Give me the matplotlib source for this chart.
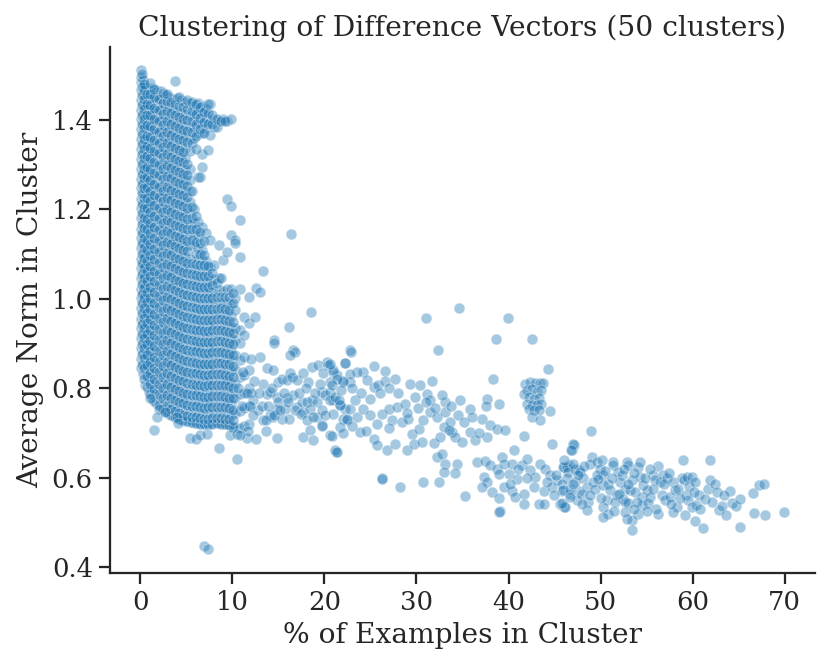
import numpy as np
import pandas as pd
import matplotlib
matplotlib.use("Agg")
import matplotlib.pyplot as plt
import seaborn as sns

# ---- dense block (x < 12): one x per column, y values
mass_x = [0.05, 0.25, 0.5, 0.9, 1.3, 1.75, 2.2, 2.65, 3.1, 3.55, 4.0, 4.45, 4.9, 5.35,
          5.8, 6.25, 6.7, 7.15, 7.6, 8.05, 8.5, 8.95, 9.4, 9.85, 10.3, 10.8, 11.3, 11.8]
mass_y = [
    [0.845, 0.866, 0.889, 0.912, 0.934, 0.955, 0.979, 1.001, 1.022, 1.046, 1.068, 1.089, 1.113, 1.135, 1.156, 1.18,
     1.202, 1.223, 1.247, 1.268, 1.29, 1.313, 1.335, 1.357, 1.379, 1.401, 1.422, 1.445, 1.466, 1.484, 1.497, 1.511],
    [0.832, 0.855, 0.878, 0.9, 0.923, 0.946, 0.968, 0.99, 1.012, 1.035, 1.057, 1.08, 1.102, 1.124, 1.146, 1.169,
     1.191, 1.213, 1.236, 1.258, 1.28, 1.302, 1.325, 1.347, 1.369, 1.391, 1.413, 1.436, 1.457, 1.476, 1.49],
    [0.806, 0.829, 0.851, 0.873, 0.897, 0.918, 0.94, 0.963, 0.985, 1.007, 1.03, 1.052, 1.074, 1.097, 1.119, 1.141,
     1.164, 1.186, 1.208, 1.231, 1.253, 1.275, 1.298, 1.32, 1.342, 1.365, 1.387, 1.409, 1.432, 1.454, 1.473],
    [0.792, 0.817, 0.84, 0.864, 0.887, 0.91, 0.934, 0.957, 0.981, 1.004, 1.027, 1.051, 1.074, 1.097, 1.121, 1.144,
     1.167, 1.191, 1.214, 1.237, 1.261, 1.284, 1.307, 1.331, 1.354, 1.377, 1.401, 1.424, 1.447, 1.468],
    [0.777, 0.801, 0.825, 0.849, 0.873, 0.897, 0.921, 0.945, 0.969, 0.993, 1.017, 1.041, 1.065, 1.089, 1.113, 1.137,
     1.161, 1.185, 1.209, 1.233, 1.257, 1.281, 1.305, 1.329, 1.353, 1.377, 1.401, 1.425, 1.449, 1.472],
    [0.766, 0.79, 0.815, 0.839, 0.863, 0.888, 0.912, 0.936, 0.961, 0.985, 1.009, 1.034, 1.058, 1.082, 1.107, 1.131,
     1.155, 1.18, 1.204, 1.228, 1.253, 1.277, 1.301, 1.326, 1.35, 1.374, 1.399, 1.423, 1.447, 1.468],
    [0.757, 0.782, 0.806, 0.831, 0.856, 0.88, 0.905, 0.93, 0.954, 0.979, 1.004, 1.028, 1.053, 1.078, 1.102, 1.127,
     1.152, 1.176, 1.201, 1.226, 1.25, 1.275, 1.3, 1.324, 1.349, 1.374, 1.398, 1.423, 1.446, 1.464],
    [0.749, 0.772, 0.797, 0.821, 0.846, 0.87, 0.894, 0.919, 0.943, 0.968, 0.992, 1.016, 1.041, 1.065, 1.09, 1.114,
     1.138, 1.163, 1.187, 1.212, 1.236, 1.26, 1.285, 1.309, 1.334, 1.358, 1.382, 1.407, 1.431, 1.455],
    [0.743, 0.766, 0.791, 0.815, 0.84, 0.864, 0.889, 0.913, 0.938, 0.962, 0.987, 1.011, 1.036, 1.06, 1.085, 1.109,
     1.134, 1.158, 1.183, 1.207, 1.232, 1.256, 1.281, 1.305, 1.33, 1.354, 1.379, 1.403, 1.428, 1.452],
    [0.737, 0.761, 0.786, 0.81, 0.835, 0.859, 0.884, 0.908, 0.933, 0.957, 0.982, 1.006, 1.031, 1.055, 1.08, 1.104,
     1.129, 1.153, 1.178, 1.202, 1.227, 1.251, 1.276, 1.3, 1.325, 1.349, 1.374, 1.398, 1.423, 1.447],
    [0.733, 0.757, 0.781, 0.806, 0.83, 0.855, 0.879, 0.904, 0.928, 0.953, 0.977, 1.002, 1.026, 1.051, 1.075, 1.1,
     1.124, 1.149, 1.173, 1.198, 1.222, 1.247, 1.271, 1.296, 1.32, 1.345, 1.369, 1.394, 1.418, 1.448],
    [0.729, 0.753, 0.778, 0.802, 0.827, 0.851, 0.876, 0.9, 0.925, 0.949, 0.974, 0.998, 1.023, 1.047, 1.072, 1.096,
     1.121, 1.145, 1.17, 1.194, 1.219, 1.243, 1.268, 1.292, 1.317, 1.341, 1.366, 1.39, 1.415, 1.444],
    [0.727, 0.75, 0.775, 0.799, 0.824, 0.848, 0.873, 0.897, 0.922, 0.946, 0.971, 0.995, 1.02, 1.044, 1.069, 1.093,
     1.118, 1.142, 1.167, 1.191, 1.216, 1.24, 1.265, 1.289, 1.314, 1.338, 1.363, 1.387, 1.412, 1.441],
    [0.725, 0.749, 0.773, 0.798, 0.822, 0.847, 0.871, 0.896, 0.92, 0.945, 0.969, 0.994, 1.018, 1.043, 1.067, 1.089,
     1.12, 1.143, 1.168, 1.192, 1.217, 1.241, 1.266, 1.29, 1.33, 1.358, 1.384, 1.408, 1.437],
    [0.723, 0.747, 0.772, 0.796, 0.821, 0.845, 0.87, 0.894, 0.919, 0.943, 0.968, 0.992, 1.017, 1.041, 1.066, 1.12,
     1.145, 1.17, 1.2, 1.36, 1.385, 1.41, 1.432],
    [0.721, 0.745, 0.77, 0.794, 0.819, 0.843, 0.868, 0.892, 0.917, 0.941, 0.966, 0.99, 1.015, 1.039, 1.064, 1.088,
     1.113, 1.14, 1.172, 1.273, 1.37, 1.395, 1.42, 1.438],
    [0.72, 0.744, 0.769, 0.793, 0.818, 0.842, 0.867, 0.891, 0.916, 0.94, 0.965, 0.989, 1.014, 1.038, 1.063, 1.087,
     1.11, 1.16, 1.294, 1.324, 1.37, 1.392, 1.415, 1.432],
    [0.72, 0.744, 0.768, 0.793, 0.817, 0.842, 0.866, 0.891, 0.915, 0.94, 0.964, 0.989, 1.013, 1.038, 1.062, 1.085,
     1.146, 1.383, 1.405, 1.425],
    [0.72, 0.745, 0.769, 0.794, 0.818, 0.843, 0.867, 0.892, 0.916, 0.941, 0.965, 0.99, 1.014, 1.04, 1.07, 1.131,
     1.366, 1.396, 1.436],
    [0.721, 0.745, 0.77, 0.794, 0.819, 0.843, 0.868, 0.892, 0.917, 0.941, 0.966, 0.99, 1.015, 1.045, 1.075, 1.385, 1.401],
    [0.722, 0.746, 0.771, 0.795, 0.82, 0.844, 0.869, 0.893, 0.918, 0.942, 0.967, 0.991, 1.02, 1.046, 1.12, 1.398],
    [0.72, 0.745, 0.769, 0.794, 0.818, 0.843, 0.867, 0.892, 0.916, 0.941, 0.965, 0.99, 1.018, 1.087, 1.401],
    [0.72, 0.744, 0.769, 0.793, 0.818, 0.842, 0.867, 0.891, 0.916, 0.94, 0.965, 0.99, 1.021, 1.105, 1.224, 1.398],
    [0.716, 0.741, 0.765, 0.79, 0.814, 0.839, 0.863, 0.888, 0.912, 0.937, 0.961, 0.986, 1.021, 1.143, 1.208, 1.401],
    [0.712, 0.745, 0.778, 0.81, 0.843, 0.875, 0.908, 0.934, 0.975, 1.001, 1.131, 1.124],
    [0.71, 0.748, 0.786, 0.824, 0.862, 0.9, 0.93, 1.021, 1.094, 1.176],
    [0.715, 0.755, 0.79, 0.83, 0.87, 0.919, 0.96],
    [0.72, 0.76, 0.8, 0.84, 0.945, 1.005],
]

# second, staggered set of columns inside the block
mass2_x = [0.15, 0.38, 0.7, 1.1, 1.52, 1.98, 2.42, 2.88, 3.32, 3.78, 4.22, 4.68, 5.12, 5.58,
           6.02, 6.48, 6.92, 7.38, 7.82, 8.28, 8.72, 9.18, 9.62, 10.05]
mass2_y = [
    [0.851, 0.876, 0.899, 0.921, 0.944, 0.967, 0.99, 1.011, 1.034, 1.056, 1.079, 1.101, 1.124, 1.146, 1.168,
     1.191, 1.213, 1.236, 1.257, 1.28, 1.302, 1.324, 1.346, 1.368, 1.39, 1.412, 1.434, 1.455, 1.474, 1.503],
    [0.821, 0.845, 0.867, 0.889, 0.912, 0.934, 0.957, 0.979, 1.001, 1.024, 1.046, 1.068, 1.091, 1.113, 1.135,
     1.158, 1.18, 1.202, 1.225, 1.247, 1.269, 1.291, 1.314, 1.336, 1.358, 1.381, 1.403, 1.425, 1.446, 1.466, 1.481],
    [0.803, 0.828, 0.852, 0.875, 0.898, 0.922, 0.945, 0.969, 0.992, 1.015, 1.039, 1.062, 1.085, 1.109, 1.132,
     1.155, 1.179, 1.202, 1.225, 1.249, 1.272, 1.295, 1.319, 1.342, 1.365, 1.389, 1.412, 1.435, 1.458],
    [0.786, 0.81, 0.834, 0.858, 0.882, 0.906, 0.93, 0.954, 0.978, 1.002, 1.026, 1.05, 1.074, 1.098, 1.122,
     1.146, 1.17, 1.194, 1.218, 1.242, 1.266, 1.29, 1.314, 1.338, 1.362, 1.386, 1.41, 1.434, 1.458, 1.483],
    [0.772, 0.797, 0.821, 0.845, 0.869, 0.894, 0.918, 0.942, 0.966, 0.991, 1.015, 1.039, 1.063, 1.088, 1.112,
     1.136, 1.16, 1.185, 1.209, 1.233, 1.257, 1.282, 1.306, 1.33, 1.354, 1.379, 1.403, 1.427, 1.451, 1.47],
    [0.762, 0.786, 0.81, 0.835, 0.859, 0.884, 0.908, 0.933, 0.957, 0.982, 1.006, 1.031, 1.055, 1.08, 1.104,
     1.129, 1.153, 1.178, 1.202, 1.227, 1.251, 1.276, 1.3, 1.325, 1.349, 1.374, 1.398, 1.423, 1.446],
    [0.753, 0.777, 0.801, 0.826, 0.85, 0.875, 0.899, 0.924, 0.948, 0.973, 0.997, 1.022, 1.046, 1.071, 1.095,
     1.12, 1.144, 1.169, 1.193, 1.218, 1.242, 1.267, 1.291, 1.316, 1.34, 1.365, 1.389, 1.414, 1.438, 1.46],
    [0.746, 0.759, 0.784, 0.809, 0.833, 0.858, 0.882, 0.907, 0.931, 0.956, 0.98, 1.005, 1.029, 1.054, 1.078,
     1.103, 1.127, 1.152, 1.176, 1.201, 1.225, 1.25, 1.274, 1.299, 1.323, 1.348, 1.372, 1.397, 1.421, 1.443, 1.458],
    [0.74, 0.754, 0.779, 0.803, 0.828, 0.852, 0.877, 0.901, 0.926, 0.95, 0.975, 0.999, 1.024, 1.048, 1.073,
     1.097, 1.122, 1.146, 1.171, 1.195, 1.22, 1.244, 1.269, 1.293, 1.318, 1.342, 1.367, 1.391, 1.416, 1.44],
    [0.735, 0.749, 0.774, 0.798, 0.823, 0.847, 0.872, 0.896, 0.921, 0.945, 0.97, 0.994, 1.019, 1.043, 1.068,
     1.092, 1.117, 1.141, 1.166, 1.19, 1.215, 1.239, 1.264, 1.288, 1.313, 1.337, 1.362, 1.386, 1.411, 1.435, 1.487],
    [0.731, 0.745, 0.77, 0.794, 0.819, 0.843, 0.868, 0.892, 0.917, 0.941, 0.966, 0.99, 1.015, 1.039, 1.064,
     1.088, 1.113, 1.137, 1.162, 1.186, 1.211, 1.235, 1.26, 1.284, 1.309, 1.333, 1.358, 1.382, 1.407, 1.431, 1.452],
    [0.728, 0.741, 0.766, 0.79, 0.815, 0.839, 0.864, 0.888, 0.913, 0.937, 0.962, 0.986, 1.011, 1.035, 1.06,
     1.084, 1.109, 1.133, 1.158, 1.182, 1.207, 1.231, 1.256, 1.28, 1.305, 1.329, 1.354, 1.378, 1.403, 1.428],
    [0.726, 0.738, 0.763, 0.787, 0.812, 0.836, 0.861, 0.885, 0.91, 0.934, 0.959, 0.983, 1.008, 1.032, 1.057,
     1.081, 1.106, 1.13, 1.155, 1.179, 1.204, 1.228, 1.253, 1.277, 1.302, 1.35, 1.375, 1.399, 1.424, 1.445],
    [0.724, 0.736, 0.761, 0.785, 0.81, 0.834, 0.859, 0.883, 0.908, 0.932, 0.957, 0.981, 1.006, 1.03, 1.055,
     1.079, 1.132, 1.157, 1.181, 1.206, 1.24, 1.348, 1.372, 1.397, 1.421, 1.44],
    [0.722, 0.735, 0.759, 0.784, 0.808, 0.833, 0.857, 0.882, 0.906, 0.931, 0.955, 0.98, 1.004, 1.029, 1.053,
     1.078, 1.1, 1.127, 1.155, 1.185, 1.336, 1.365, 1.39, 1.414, 1.436],
    [0.72, 0.733, 0.757, 0.782, 0.806, 0.831, 0.855, 0.88, 0.904, 0.929, 0.953, 0.978, 1.002, 1.027, 1.051,
     1.076, 1.1, 1.125, 1.15, 1.273, 1.38, 1.405, 1.428],
    [0.72, 0.732, 0.756, 0.781, 0.805, 0.83, 0.854, 0.879, 0.903, 0.928, 0.952, 0.977, 1.001, 1.026, 1.05,
     1.075, 1.098, 1.13, 1.37, 1.395, 1.418],
    [0.72, 0.732, 0.757, 0.781, 0.806, 0.83, 0.855, 0.879, 0.904, 0.928, 0.953, 0.977, 1.002, 1.026, 1.05,
     1.073, 1.333, 1.39, 1.415, 1.436],
    [0.72, 0.733, 0.757, 0.782, 0.806, 0.831, 0.855, 0.88, 0.904, 0.929, 0.953, 0.978, 1.002, 1.03, 1.057,
     1.39, 1.41],
    [0.721, 0.733, 0.758, 0.782, 0.807, 0.831, 0.856, 0.88, 0.905, 0.929, 0.954, 0.978, 1.005, 1.035, 1.385, 1.401],
    [0.72, 0.734, 0.758, 0.783, 0.807, 0.832, 0.856, 0.881, 0.905, 0.93, 0.954, 0.979, 1.004, 1.046, 1.398],
    [0.72, 0.732, 0.757, 0.781, 0.806, 0.83, 0.855, 0.879, 0.904, 0.928, 0.953, 0.977, 1.005, 1.398],
    [0.718, 0.73, 0.755, 0.779, 0.804, 0.828, 0.853, 0.877, 0.902, 0.926, 0.951, 0.975, 1.003],
    [0.714, 0.728, 0.752, 0.777, 0.801, 0.826, 0.85, 0.875, 0.899, 0.924, 0.949, 0.99, 1.012],
]

# ---- arm between x = 12 and x = 23
arm_x = [13.01, 13.74, 14.46, 15.00, 15.37, 15.91, 16.27, 16.45, 16.99, 17.72, 18.26, 18.63, 19.35, 20.26,
         20.44, 19.89, 20.98, 21.34, 22.25, 22.07, 22.79, 20.62, 13.37, 13.74, 14.10, 14.82, 15.00, 15.91,
         16.63, 16.99, 17.54, 18.08, 18.63, 19.17, 19.71, 20.07, 20.62, 20.98, 21.71, 22.25, 16.81, 17.72,
         18.44, 19.17, 19.71, 20.07, 20.98, 22.07, 22.43, 15.73, 14.82, 14.10, 14.46, 13.37, 12.83, 12.29,
         13.7, 14.5, 15.4, 16.1, 17.4, 18.1, 18.8, 19.7, 21.7, 22.4, 12.5, 12.6, 13.0, 13.3, 14.5, 16.1,
         14.5, 16.6, 16.8, 16.3, 18.5, 16.4, 22.8, 12.0, 12.4, 11.9,
         10.6, 11.0, 11.2, 11.6, 12.2, 12.0, 12.9, 13.2, 13.9, 14.3, 15.2, 15.6, 16.0, 17.2, 18.0, 19.0, 19.5]
arm_y = [0.870, 0.844, 0.840, 0.814, 0.821, 0.818, 0.833, 0.825, 0.818, 0.833, 0.814, 0.848, 0.851, 0.859,
         0.851, 0.833, 0.836, 0.829, 0.856, 0.814, 0.814, 0.814, 0.810, 0.788, 0.792, 0.780, 0.769, 0.777,
         0.784, 0.758, 0.769, 0.769, 0.773, 0.769, 0.792, 0.784, 0.792, 0.773, 0.762, 0.754, 0.751, 0.747,
         0.754, 0.736, 0.751, 0.739, 0.743, 0.732, 0.728, 0.754, 0.754, 0.739, 0.736, 0.728, 0.751, 0.773,
         0.728, 0.740, 0.732, 0.732, 0.743, 0.728, 0.736, 0.717, 0.713, 0.732, 0.960, 1.023, 1.014, 1.062,
         0.908, 0.937, 0.901, 0.886, 0.881, 0.874, 0.971, 1.144, 0.885, 0.790, 0.815, 0.760,
         0.800, 0.760, 0.835, 0.790, 0.740, 0.865, 0.790, 0.760, 0.760, 0.800, 0.750, 0.790, 0.770, 0.790,
         0.800, 0.790, 0.810]

# ---- stragglers under the block
low_x = [1.5, 5.4, 6.1, 6.5, 7.2, 8.5, 10.5, 9.75, 10.5, 11.6, 12.6, 14.8, 17.7, 18.4, 19.7, 20.6, 21.3,
         18.8, 6.9, 7.4, 1.05, 2.0, 1.85, 2.7, 4.0, 4.1, 13.7, 11.7, 10.8, 21.2, 26.3]
low_y = [0.707, 0.689, 0.687, 0.695, 0.698, 0.666, 0.642, 0.695, 0.698, 0.689, 0.687, 0.689, 0.691, 0.706,
         0.715, 0.695, 0.657, 0.685, 0.446, 0.440, 0.777, 0.754, 0.736, 0.747, 0.736, 0.721, 0.704, 0.704,
         0.695, 0.661, 0.598]

# ---- middle of the tail, x = 20 .. 48
tail_x = [34.64, 31.02, 39.90, 38.63, 42.50, 32.29, 44.24, 38.27, 22.87, 22.25,
          41.82, 42.36, 42.90, 43.45, 43.74, 42.00, 42.54, 43.08, 43.52, 41.63, 42.18, 42.72, 43.27,
          42.00, 42.54, 43.08, 43.52, 42.18, 42.72, 43.27, 42.54, 43.45, 44.53,
          25.33, 26.60, 24.24, 23.52, 22.79, 22.07, 20.98, 20.62, 21.34, 20.80, 24.61, 25.33, 25.87, 26.60,
          27.69, 29.32, 30.40, 31.67, 31.13, 31.49, 33.12, 34.75, 35.84, 37.65, 38.92, 37.58,
          20.62, 21.16, 21.71, 21.53, 22.79, 23.34, 23.52, 24.24, 24.97, 25.69, 26.24, 26.96, 27.32, 27.87,
          28.41, 29.13, 29.50, 30.22, 30.76, 31.49, 32.21, 32.94, 33.84, 33.12, 33.66, 34.21, 34.93, 35.84,
          36.38, 37.11, 38.01, 38.74, 39.64, 37.65, 41.63, 44.71, 20.80, 21.34, 23.88, 25.33, 25.69, 26.78,
          27.69, 28.95, 29.68, 30.58, 31.85, 32.58, 33.48, 32.21, 32.76, 33.12, 32.94, 34.39, 34.21, 32.40,
          30.76, 28.23, 26.24, 35.29,
          36.56, 37.47, 38.01, 38.74, 39.28, 39.46, 40.00, 40.55, 40.37, 40.91, 41.45, 42.00, 42.36, 42.90,
          43.45, 43.99, 44.53, 45.26, 45.98, 46.53, 46.89, 47.07, 47.61, 37.29, 37.65, 37.11, 38.19, 38.92,
          39.46, 40.37, 40.73, 41.63, 42.72, 43.27, 43.81, 44.71, 45.80, 46.71, 45.98, 47.61, 39.10, 41.63,
          43.81, 45.62, 39.0,
          21.8, 23.0, 24.0, 25.0, 26.0, 27.0, 28.0, 28.8, 29.8, 30.2, 31.0, 32.0, 32.8, 33.8, 34.5, 35.2,
          36.0, 36.8, 29.0, 27.0, 24.5, 23.0, 22.0]
tail_y = [0.980, 0.956, 0.957, 0.909, 0.909, 0.886, 0.842, 0.821, 0.881, 0.856,
          0.810, 0.814, 0.812, 0.812, 0.812, 0.795, 0.799, 0.791, 0.795, 0.786, 0.780, 0.776, 0.779,
          0.765, 0.762, 0.762, 0.765, 0.754, 0.750, 0.752, 0.735, 0.728, 0.749,
          0.849, 0.838, 0.836, 0.836, 0.832, 0.816, 0.840, 0.855, 0.821, 0.806, 0.819, 0.803, 0.806, 0.817,
          0.821, 0.809, 0.806, 0.817, 0.788, 0.773, 0.769, 0.774, 0.754, 0.776, 0.765, 0.759,
          0.773, 0.780, 0.762, 0.773, 0.754, 0.773, 0.735, 0.754, 0.739, 0.720, 0.743, 0.754, 0.728, 0.758,
          0.724, 0.732, 0.698, 0.709, 0.728, 0.747, 0.735, 0.713, 0.702, 0.747, 0.724, 0.691, 0.679, 0.702,
          0.683, 0.732, 0.717, 0.709, 0.706, 0.691, 0.694, 0.676, 0.694, 0.657, 0.702, 0.687, 0.672, 0.661,
          0.676, 0.661, 0.676, 0.679, 0.677, 0.691, 0.706, 0.646, 0.653, 0.631, 0.612, 0.631, 0.610, 0.590,
          0.591, 0.579, 0.597, 0.558,
          0.635, 0.638, 0.627, 0.620, 0.646, 0.631, 0.609, 0.661, 0.631, 0.597, 0.627, 0.642, 0.616, 0.601,
          0.631, 0.620, 0.605, 0.594, 0.623, 0.627, 0.661, 0.672, 0.616, 0.601, 0.590, 0.579, 0.568, 0.609,
          0.579, 0.571, 0.556, 0.564, 0.579, 0.541, 0.571, 0.579, 0.571, 0.564, 0.534, 0.571, 0.526, 0.541,
          0.541, 0.541, 0.522,
          0.795, 0.800, 0.790, 0.775, 0.790, 0.800, 0.790, 0.765, 0.780, 0.755, 0.770, 0.755, 0.785, 0.760,
          0.740, 0.725, 0.735, 0.700, 0.745, 0.710, 0.705, 0.715, 0.700]

# ---- far end, x = 45 .. 70
end_x = [45.96, 46.32, 46.51, 47.23, 47.05, 46.32, 45.78, 45.96, 46.69, 47.23, 47.77, 48.14, 48.50, 47.96,
         47.41, 48.68, 48.50, 46.14, 45.78, 46.69, 49.04, 48.86, 49.59, 50.13, 49.95, 50.31, 49.59, 49.22,
         49.40, 50.31, 50.85, 51.03, 50.67, 50.31, 50.85, 50.31, 51.40, 51.40, 51.94, 52.30, 52.12, 52.67,
         51.76, 52.48, 52.67, 53.03, 52.85, 53.03, 53.39, 53.21, 53.75, 54.11, 54.30, 54.30, 54.66, 54.48,
         54.48, 54.11, 53.39, 53.39, 52.85, 52.67, 55.02, 55.38, 55.20, 55.74, 55.93, 56.29, 56.47, 56.65,
         56.29, 56.83, 57.19, 57.01, 57.56, 57.92, 58.10, 58.46, 58.28, 57.92, 58.82, 59.01, 59.37, 59.30,
         59.55, 59.91, 59.19, 59.91, 60.38, 60.64, 60.82, 60.27, 61.14, 58.90, 61.87, 61.65, 61.87, 62.38,
         62.63, 62.88, 63.17, 63.61, 64.01, 64.26, 64.73, 65.17, 65.17, 66.61, 67.16, 67.77, 66.72, 67.88,
         69.88, 48.97, 46.98, 46.76,
         45.2, 46.0, 47.6, 48.2, 48.9, 49.7, 50.5, 51.2, 51.6, 52.0, 52.5, 53.0, 53.6, 54.0, 54.8, 55.4,
         55.7, 56.0, 56.9, 57.4, 57.7, 58.6, 59.6, 60.3, 60.1, 61.3, 62.1, 63.4, 50.0, 51.5, 53.6, 55.0,
         47.0, 48.0, 44.9, 44.2, 42.0, 41.0, 40.2, 39.0]
end_y = [0.624, 0.624, 0.613, 0.620, 0.631, 0.598, 0.586, 0.572, 0.575, 0.590, 0.613, 0.598, 0.579, 0.564,
         0.549, 0.545, 0.527, 0.534, 0.542, 0.557, 0.646, 0.631, 0.635, 0.639, 0.620, 0.605, 0.605, 0.590,
         0.575, 0.583, 0.586, 0.572, 0.549, 0.534, 0.519, 0.512, 0.635, 0.627, 0.613, 0.605, 0.590, 0.575,
         0.560, 0.553, 0.545, 0.542, 0.635, 0.627, 0.594, 0.572, 0.568, 0.624, 0.635, 0.601, 0.583, 0.557,
         0.538, 0.519, 0.504, 0.482, 0.508, 0.523, 0.572, 0.557, 0.542, 0.605, 0.594, 0.625, 0.590, 0.560,
         0.519, 0.605, 0.598, 0.549, 0.557, 0.590, 0.572, 0.575, 0.534, 0.523, 0.598, 0.594, 0.601, 0.560,
         0.549, 0.534, 0.516, 0.601, 0.538, 0.560, 0.530, 0.503, 0.488, 0.640, 0.640, 0.575, 0.594, 0.585,
         0.567, 0.527, 0.536, 0.516, 0.570, 0.543, 0.536, 0.551, 0.489, 0.566, 0.583, 0.585, 0.520, 0.516,
         0.522, 0.704, 0.674, 0.661,
         0.605, 0.640, 0.605, 0.625, 0.560, 0.596, 0.615, 0.600, 0.545, 0.563, 0.620, 0.585, 0.610, 0.545,
         0.600, 0.620, 0.575, 0.530, 0.585, 0.610, 0.540, 0.555, 0.582, 0.590, 0.567, 0.552, 0.545, 0.560,
         0.555, 0.525, 0.530, 0.525, 0.585, 0.540, 0.560, 0.590, 0.600, 0.620, 0.585, 0.555]

xs, ys = [], []
for cols_x, cols_y in ((mass_x, mass_y), (mass2_x, mass2_y)):
    for cx, col in zip(cols_x, cols_y):
        xs += [cx] * len(col)
        ys += col
for px, py in ((arm_x, arm_y), (low_x, low_y), (tail_x, tail_y), (end_x, end_y)):
    xs += px
    ys += py
df = pd.DataFrame({"pct": xs, "norm": ys})

sns.set_theme(style="ticks", font="serif", font_scale=1.3)

fig = plt.figure(figsize=(830 / 130, 666 / 130), dpi=130)
ax = fig.add_axes([0.1325, 0.140, 0.8495, 0.790])
sns.scatterplot(data=df, x="pct", y="norm", color="#1f77b4", alpha=0.4, ax=ax)
sns.despine(ax=ax)
ax.set_xlim(-3.3, 73.3)
ax.set_ylim(0.387, 1.564)
ax.set_xlabel("% of Examples in Cluster")
ax.set_ylabel("Average Norm in Cluster")
ax.set_title("Clustering of Difference Vectors (50 clusters)")

fig.savefig("out.png", dpi=130)
